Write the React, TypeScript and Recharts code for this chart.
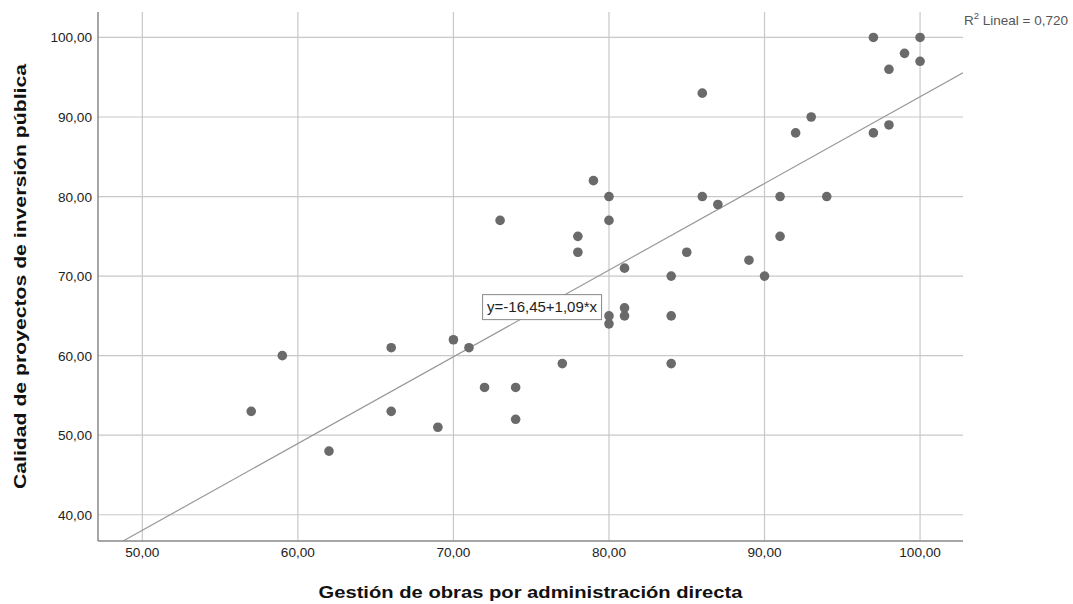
import React from "react";
import {
  ScatterChart,
  Scatter,
  XAxis,
  YAxis,
  ReferenceLine,
  ReferenceDot,
} from "recharts";

// Gestión de obras (x) vs Calidad de proyectos (y)
const gestion = [
  57, 59, 62, 66, 66, 69, 70, 71, 72, 73, 74, 74, 77, 78, 78, 79, 80, 80, 80, 80, 81, 81,
  81, 84, 84, 84, 85, 86, 86, 87, 89, 90, 91, 91, 92, 93, 94, 97, 97, 98, 98, 99, 100, 100,
];
const calidad = [
  53, 60, 48, 61, 53, 51, 62, 61, 56, 77, 56, 52, 59, 75, 73, 82, 80, 77, 65, 64, 71, 66,
  65, 70, 65, 59, 73, 93, 80, 79, 72, 70, 80, 75, 88, 90, 80, 100, 88, 96, 89, 98, 100, 97,
];

const xTicks = [50, 60, 70, 80, 90, 100];
const yTicks = [40, 50, 60, 70, 80, 90, 100];
const xDomain = [47.15, 102.76];
const yDomain = [36.7, 103.2];

// regression fit
const intercept = -16.45;
const slope = 1.09;
const r2 = "0,720";
const eqLabel = "y=-16,45+1,09*x";
const eqPos = { x: 75.7, y: 66.1 };

const points = gestion.map((g, i) => ({ x: g, y: calidad[i] }));

const fmt = (v: number) => v.toFixed(2).replace(".", ",");

const xStart = Math.max(xDomain[0], (yDomain[0] - intercept) / slope);
const xEnd = xDomain[1];
const fitSegment = [
  { x: xStart, y: intercept + slope * xStart },
  { x: xEnd, y: intercept + slope * xEnd },
];

const font = "Arial, 'Liberation Sans', sans-serif";
const gridColor = "#c8c8c8";

const EqBox = (props: any) => {
  const { cx, cy } = props;
  const w = 119;
  const h = 25;
  return (
    <g>
      <rect x={cx - w / 2} y={cy - h / 2} width={w} height={h} fill="#fff" stroke="#888" strokeWidth={1} />
      <text x={cx} y={cy + 5} textAnchor="middle" fontFamily={font} fontSize={15} fill="#222">
        {eqLabel}
      </text>
    </g>
  );
};

const Dot = (props: any) => <circle cx={props.cx} cy={props.cy} r={4.8} fill="#6a6a6a" />;

const XTick = (props: any) => {
  const { x, y, payload } = props;
  return (
    <text x={x} y={y + 11} textAnchor="middle" fontFamily={font} fontSize={13.6} fill="#222">
      {fmt(payload.value)}
    </text>
  );
};

const YTick = (props: any) => {
  const { x, y, payload } = props;
  return (
    <text x={x} y={y + 5} textAnchor="end" fontFamily={font} fontSize={13.6} fill="#222">
      {fmt(payload.value)}
    </text>
  );
};

export default function App() {
  return (
    <div style={{ position: "absolute", left: 0, top: 0, width: 1073, height: 604, background: "#fff" }}>
      <ScatterChart width={1073} height={604} margin={{ top: 12, right: 110, bottom: 33, left: 38 }}>
        <XAxis
          type="number"
          dataKey="x"
          domain={xDomain}
          ticks={xTicks}
          allowDataOverflow
          height={30}
          tickLine={false}
          tickSize={0}
          tickMargin={5}
          axisLine={{ stroke: "#888", strokeWidth: 1.5 }}
          tick={<XTick />}
          label={{
            content: (p: any) => {
              const vb = p.viewBox;
              return (
                <text
                  x={vb.x + vb.width / 2}
                  y={598}
                  textAnchor="middle"
                  fontFamily={font}
                  fontWeight="bold"
                  fontSize={17}
                  textLength={424}
                  lengthAdjust="spacingAndGlyphs"
                  fill="#111"
                >
                  Gestión de obras por administración directa
                </text>
              );
            },
          }}
        />
        <YAxis
          type="number"
          dataKey="y"
          domain={yDomain}
          ticks={yTicks}
          allowDataOverflow
          width={60}
          tickLine={false}
          tickSize={0}
          tickMargin={6}
          axisLine={{ stroke: "#888", strokeWidth: 1.5 }}
          tick={<YTick />}
          label={{
            content: (p: any) => {
              const vb = p.viewBox;
              const cy = vb.y + vb.height / 2;
              return (
                <text
                  x={26}
                  y={cy}
                  transform={`rotate(-90, 26, ${cy})`}
                  textAnchor="middle"
                  fontFamily={font}
                  fontWeight="bold"
                  fontSize={17}
                  textLength={425}
                  lengthAdjust="spacingAndGlyphs"
                  fill="#111"
                >
                  Calidad de proyectos de inversión pública
                </text>
              );
            },
          }}
        />
        {xTicks.map((t) => (
          <ReferenceLine key={`gx${t}`} x={t} stroke={gridColor} strokeWidth={1.2} />
        ))}
        {yTicks.map((t) => (
          <ReferenceLine key={`gy${t}`} y={t} stroke={gridColor} strokeWidth={1.2} />
        ))}
        <ReferenceLine segment={fitSegment} stroke="#999" strokeWidth={1.2} ifOverflow="hidden" />
        <Scatter data={points} shape={<Dot />} isAnimationActive={false} />
        <ReferenceDot x={eqPos.x} y={eqPos.y} ifOverflow="visible" shape={<EqBox />} />
      </ScatterChart>
      <div
        style={{
          position: "absolute",
          left: 964,
          top: 10,
          fontFamily: font,
          fontSize: 13.5,
          color: "#555",
          whiteSpace: "nowrap",
        }}
      >
        R<sup style={{ fontSize: 9.5 }}>2</sup> Lineal = {r2}
      </div>
    </div>
  );
}
